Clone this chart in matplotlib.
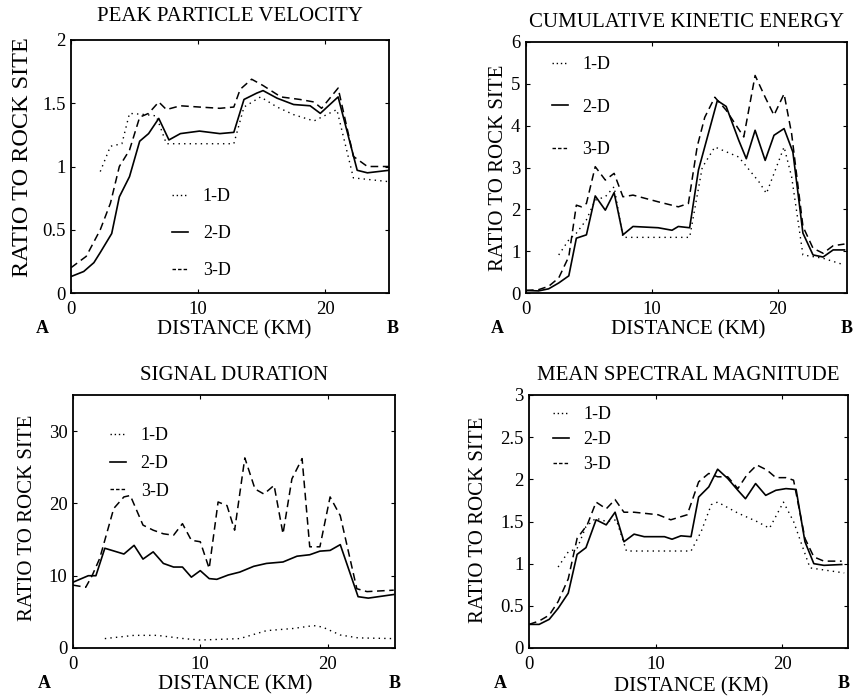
import matplotlib
matplotlib.use("Agg")
import matplotlib.pyplot as plt
from matplotlib.lines import Line2D
from matplotlib.ticker import FuncFormatter

plt.rcParams['font.family'] = 'Liberation Serif'

titles = ["PEAK PARTICLE VELOCITY", "CUMULATIVE KINETIC ENERGY",
          "SIGNAL DURATION", "MEAN SPECTRAL MAGNITUDE"]
labels = ["1-D", "2-D", "3-D"]

# peak particle velocity
ppv_1d_x = [2.3, 3.1, 4.0, 4.6, 5.9, 6.7, 7.5, 12.8, 13.6, 14.9, 16.2, 17.5, 19.1, 20.9, 22.2, 25.0]
ppv_1d_y = [0.96, 1.16, 1.18, 1.42, 1.41, 1.40, 1.18, 1.18, 1.47, 1.55, 1.47, 1.41, 1.36, 1.45, 0.91, 0.88]
ppv_2d_x = [0, 1.0, 1.8, 2.3, 3.2, 3.8, 4.6, 5.4, 6.1, 6.9, 7.7, 8.6, 10.1, 11.7, 12.8, 13.6,
            14.6, 15.1, 16.2, 17.5, 18.8, 19.6, 21.0, 22.5, 23.3, 25.0]
ppv_2d_y = [0.13, 0.17, 0.24, 0.32, 0.47, 0.76, 0.92, 1.20, 1.26, 1.38, 1.21, 1.26, 1.28, 1.26, 1.27, 1.53,
            1.58, 1.60, 1.54, 1.49, 1.48, 1.42, 1.55, 0.97, 0.95, 0.97]
ppv_3d_x = [0, 1.2, 2.3, 3.1, 3.8, 4.6, 5.4, 6.1, 6.9, 7.5, 8.6, 10.1, 11.7, 12.8, 13.3, 14.2,
            15.1, 16.5, 18.0, 19.1, 19.7, 21.0, 22.2, 23.3, 25.0]
ppv_3d_y = [0.20, 0.29, 0.50, 0.71, 1.00, 1.13, 1.39, 1.42, 1.51, 1.45, 1.48, 1.47, 1.46, 1.47, 1.61, 1.69,
            1.64, 1.55, 1.53, 1.51, 1.46, 1.62, 1.08, 1.00, 1.00]

# cumulative kinetic energy
cke_1d_x = [2.6, 3.4, 4.0, 4.8, 5.5, 6.3, 7.0, 7.7, 13.0, 14.0, 15.0, 16.9, 18.5, 19.1, 20.5, 21.1,
            22.0, 23.6, 25.3]
cke_1d_y = [0.91, 1.27, 1.43, 1.75, 2.22, 2.30, 2.54, 1.33, 1.33, 3.00, 3.49, 3.25, 2.66, 2.38, 3.49, 2.78,
            0.91, 0.83, 0.67]
cke_2d_x = [0, 1.0, 1.8, 2.6, 3.4, 4.0, 4.8, 5.5, 6.3, 7.0, 7.7, 8.5, 10.5, 11.6, 12.1, 13.0,
            13.7, 15.2, 15.9, 16.9, 17.5, 18.2, 19.0, 19.7, 20.5, 21.2, 22.0, 22.8, 23.6, 24.4, 25.3]
cke_2d_y = [0.06, 0.05, 0.10, 0.24, 0.41, 1.31, 1.39, 2.32, 1.98, 2.40, 1.39, 1.59, 1.56, 1.50, 1.59, 1.56,
            2.94, 4.60, 4.46, 3.65, 3.21, 3.89, 3.17, 3.77, 3.93, 3.37, 1.43, 0.91, 0.86, 1.03, 1.03]
cke_3d_x = [0, 1.0, 1.8, 2.6, 3.4, 4.0, 4.4, 4.8, 5.5, 6.3, 7.0, 7.7, 8.5, 10.5, 12.1, 12.9,
            13.6, 14.2, 15.0, 15.9, 17.3, 18.2, 19.0, 19.7, 20.5, 21.1, 22.0, 22.8, 23.6, 24.4, 25.3]
cke_3d_y = [0.06, 0.08, 0.16, 0.36, 0.87, 2.10, 2.06, 2.14, 3.02, 2.70, 2.86, 2.30, 2.34, 2.18, 2.06, 2.14,
            3.50, 4.20, 4.68, 4.37, 3.73, 5.20, 4.68, 4.25, 4.76, 3.81, 1.59, 1.07, 0.95, 1.13, 1.17]

# signal duration
sd_1d_x = [2.5, 4.8, 6.6, 8.7, 10.0, 13.1, 15.2, 17.3, 18.9, 19.6, 21.0, 22.4, 25.2]
sd_1d_y = [1.3, 1.75, 1.75, 1.3, 1.1, 1.3, 2.4, 2.7, 3.1, 2.9, 1.8, 1.4, 1.3]
sd_2d_x = [0, 1.2, 1.8, 2.5, 4.0, 4.8, 5.5, 6.3, 7.1, 7.9, 8.6, 9.3, 10.0, 10.7, 11.3, 12.2,
           13.1, 14.2, 15.2, 16.5, 17.6, 18.6, 19.4, 20.2, 21.0, 22.4, 23.2, 25.2]
sd_2d_y = [9.1, 10.0, 10.0, 13.8, 13.0, 14.2, 12.3, 13.3, 11.7, 11.2, 11.2, 9.8, 10.7, 9.6, 9.5, 10.1,
           10.5, 11.3, 11.7, 11.9, 12.7, 12.9, 13.4, 13.5, 14.3, 7.1, 6.9, 7.4]
sd_3d_x = [0, 1.0, 1.5, 2.1, 3.2, 4.0, 4.5, 5.5, 6.3, 7.1, 7.9, 8.6, 9.3, 10.0, 10.7, 11.4,
           12.1, 12.7, 13.5, 14.3, 15.0, 15.8, 16.5, 17.2, 18.0, 18.6, 19.4, 20.2, 21.0, 22.3, 23.1, 25.2]
sd_3d_y = [8.7, 8.4, 10.0, 12.4, 19.3, 20.9, 21.1, 17.0, 16.3, 15.8, 15.6, 17.2, 14.9, 14.7, 11.0, 20.2,
           19.7, 16.3, 26.3, 22.0, 21.3, 22.5, 15.8, 23.4, 26.2, 14.0, 14.0, 20.9, 18.3, 8.2, 7.8, 8.0]

# mean spectral magnitude
msm_1d_x = [2.3, 3.1, 3.8, 4.5, 5.3, 6.1, 6.9, 7.7, 12.8, 13.6, 14.4, 14.9, 16.5, 18.0, 19.0, 20.1,
            20.9, 22.2, 24.9]
msm_1d_y = [0.96, 1.14, 1.18, 1.44, 1.54, 1.50, 1.52, 1.15, 1.15, 1.38, 1.70, 1.73, 1.60, 1.50, 1.42, 1.73,
            1.50, 0.95, 0.89]
msm_2d_x = [0, 0.8, 1.6, 2.3, 3.1, 3.8, 4.5, 5.3, 6.1, 6.8, 7.5, 8.3, 9.1, 10.7, 11.3, 12.0,
            12.8, 13.4, 14.2, 14.9, 15.7, 16.5, 17.1, 17.9, 18.7, 19.5, 20.3, 21.1, 21.8, 22.5, 23.3, 24.7]
msm_2d_y = [0.28, 0.28, 0.34, 0.47, 0.65, 1.11, 1.19, 1.52, 1.46, 1.61, 1.26, 1.35, 1.32, 1.32, 1.29, 1.33,
            1.32, 1.79, 1.91, 2.12, 2.01, 1.87, 1.77, 1.95, 1.81, 1.87, 1.89, 1.88, 1.26, 1.00, 0.98, 0.99]
msm_3d_x = [0, 0.8, 1.6, 2.3, 3.1, 3.8, 4.1, 4.6, 5.3, 6.1, 6.8, 7.5, 8.3, 10.2, 11.2, 12.5,
            13.4, 14.2, 14.9, 15.7, 16.5, 17.2, 18.0, 18.8, 19.5, 20.3, 20.9, 21.8, 22.5, 23.3, 24.7]
msm_3d_y = [0.28, 0.32, 0.39, 0.55, 0.82, 1.30, 1.36, 1.46, 1.73, 1.65, 1.76, 1.61, 1.61, 1.58, 1.52, 1.58,
            1.97, 2.07, 2.03, 2.03, 1.89, 2.05, 2.17, 2.11, 2.02, 2.02, 1.99, 1.30, 1.08, 1.03, 1.03]

series = [
    [(ppv_1d_x, ppv_1d_y), (ppv_2d_x, ppv_2d_y), (ppv_3d_x, ppv_3d_y)],
    [(cke_1d_x, cke_1d_y), (cke_2d_x, cke_2d_y), (cke_3d_x, cke_3d_y)],
    [(sd_1d_x, sd_1d_y), (sd_2d_x, sd_2d_y), (sd_3d_x, sd_3d_y)],
    [(msm_1d_x, msm_1d_y), (msm_2d_x, msm_2d_y), (msm_3d_x, msm_3d_y)],
]
yticks = [[0, 0.5, 1, 1.5, 2], [0, 1, 2, 3, 4, 5, 6], [0, 10, 20, 30],
          [0, 0.5, 1, 1.5, 2, 2.5, 3]]
ylims = [2, 6, 35, 3]
xlims = [25, 25.5, 25.3, 25.2]

# axes boxes in pixels: left, right, top, bottom
boxes = [(71, 389, 40, 293), (526, 847, 42, 293), (73, 395, 395, 648), (529, 848, 395, 648)]
# legend anchor (axes fraction) and row spacing
leg_pos = [(0.318, 0.414), (0.08, 0.943), (0.115, 0.873), (0.075, 0.957)]
leg_space = [1.1, 1.4, 0.6, 0.45]
# label positions (axes fraction)
ylab_pos = [(-0.154, 0.538), (-0.087, 0.50), (-0.14, 0.514), (-0.157, 0.506)]
ylab_size = [17.5, 15, 15, 15]
xlab_pos = [(0.513, -0.146), (0.505, -0.147), (0.503, -0.146), (0.508, -0.154)]
title_pad = [14, 11, 11, 11]
b_x = [1.013, 1.0, 1.0, 0.985]

styles = [dict(ls=(0, (1, 3)), lw=1.0), dict(ls='-', lw=1.2), dict(ls=(0, (5, 3)), lw=1.1)]
# the legend samples use a finer pattern, as in the printed key
key_styles = [dict(ls=(0, (1, 2)), lw=1.0), dict(ls='-', lw=1.2), dict(ls=(0, (2.5, 1.5)), lw=1.0)]

W, H = 855, 699
fig = plt.figure(figsize=(W / 100, H / 100), dpi=100)

for i in range(4):
    l, r, t, b = boxes[i]
    ax = fig.add_axes([l / W, 1 - b / H, (r - l) / W, (b - t) / H])
    for (x, y), lab, st in zip(series[i], labels, styles):
        ax.plot(x, y, color='black', label=lab, **st)
    ax.set_xlim(0, xlims[i])
    ax.set_ylim(0, ylims[i])
    ax.set_xticks([0, 10, 20])
    ax.set_yticks(yticks[i])
    ax.yaxis.set_major_formatter(FuncFormatter(lambda v, p: '%g' % v))
    ax.tick_params(direction='in', length=3, width=0.8, top=True, right=True,
                   labelsize=13.5, pad=4)
    ax.tick_params(axis='x', pad=6)
    for sp in ax.spines.values():
        sp.set_linewidth(1.3)
    ax.set_title(titles[i], fontsize=15, pad=title_pad[i])
    ax.set_xlabel("DISTANCE (KM)", fontsize=15, va='center')
    ax.xaxis.set_label_coords(*xlab_pos[i])
    ax.set_ylabel("RATIO TO ROCK SITE", fontsize=ylab_size[i], va='center')
    ax.yaxis.set_label_coords(*ylab_pos[i])
    ax.text(-0.09, -0.14, "A", transform=ax.transAxes, fontsize=13,
            fontweight='bold', ha='center', va='center')
    ax.text(b_x[i], -0.14, "B", transform=ax.transAxes, fontsize=13,
            fontweight='bold', ha='center', va='center')
    keys = [Line2D([], [], color='black', **st) for st in key_styles]
    ax.legend(keys, labels, loc='upper left', bbox_to_anchor=leg_pos[i], frameon=False,
              fontsize=13, handlelength=0.9, handletextpad=0.8,
              labelspacing=leg_space[i], borderpad=0, borderaxespad=0)

fig.savefig("out.png", dpi=100)
